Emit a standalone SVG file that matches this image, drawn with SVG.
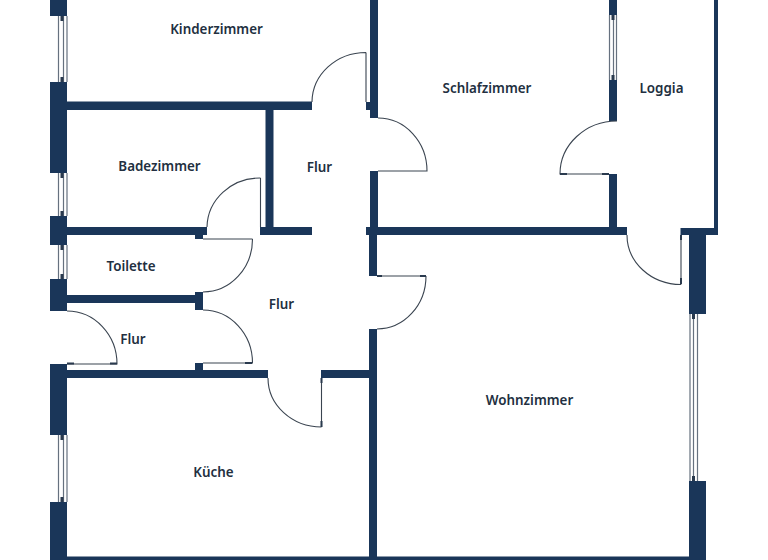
<svg xmlns="http://www.w3.org/2000/svg" width="768" height="560" viewBox="0 0 768 560">
<style>
.w{fill:#1a3659}
.d{fill:none;stroke:#3a4450;stroke-width:1.1}
.g{fill:none;stroke:#66717f;stroke-width:1.2}
.s{fill:#2a3a4e}
text{font-family:"Noto Sans","Open Sans",sans-serif;font-size:13.4px;font-weight:600;fill:#222f40;text-anchor:middle}
</style>
<rect width="768" height="560" fill="#fff"/>
<g id="walls">
<rect class="w" x="50" y="0" width="17" height="16"/>
<rect class="w" x="50" y="82" width="17" height="91"/>
<rect class="w" x="50" y="216" width="17" height="29"/>
<rect class="w" x="50" y="279" width="17" height="32"/>
<rect class="w" x="50" y="364" width="17" height="71"/>
<rect class="w" x="50" y="502" width="17" height="58"/>
<rect class="w" x="66" y="101.500" width="246" height="8.500"/>
<rect class="w" x="265.500" y="110" width="8" height="118"/>
<rect class="w" x="66" y="227" width="141" height="8"/>
<rect class="w" x="195" y="234" width="8" height="5"/>
<rect class="w" x="260" y="227" width="52" height="8"/>
<rect class="w" x="66" y="295" width="130" height="8"/>
<rect class="w" x="195" y="292" width="8" height="18"/>
<rect class="w" x="66" y="370" width="202" height="8"/>
<rect class="w" x="195" y="363" width="8" height="8"/>
<rect class="w" x="321" y="370" width="49" height="8"/>
<rect class="w" x="366" y="102" width="5" height="8"/>
<rect class="w" x="370" y="0" width="8" height="118"/>
<rect class="w" x="370" y="171" width="8" height="57"/>
<rect class="w" x="366" y="227" width="261" height="8"/>
<rect class="w" x="369" y="235" width="8" height="41"/>
<rect class="w" x="369" y="329" width="8" height="231"/>
<rect class="w" x="609" y="0" width="8" height="15"/>
<rect class="w" x="609" y="80" width="8" height="41"/>
<rect class="w" x="609" y="174" width="8" height="54"/>
<rect class="w" x="714" y="0" width="4" height="230"/>
<rect class="w" x="680.500" y="228" width="37.500" height="7"/>
<rect class="w" x="689" y="235" width="17" height="79"/>
<rect class="w" x="689" y="481" width="17" height="79"/>
<rect class="w" x="66" y="556.500" width="304" height="3.500"/>
<rect class="w" x="377" y="556.500" width="312" height="3.500"/>
</g>
<g id="windows">
<path class="g" d="M58.500 16V82M63.500 16V82M67 16V82"/>
<path class="g" d="M58.500 173V216M63.500 173V216M67 173V216"/>
<path class="g" d="M58.500 245V279M63.500 245V279M67 245V279"/>
<path class="g" d="M58.500 435V502M63.500 435V502M67 435V502"/>
<path class="g" d="M609.500 15V80M613.500 15V80M616.500 15V80"/>
<path class="g" d="M690 314V481M693.500 314V481M697.500 314V481"/>
<rect class="s" x="60.500" y="16" width="3" height="5"/>
<rect class="s" x="60.500" y="77" width="3" height="5"/>
<rect class="s" x="60.500" y="173" width="3" height="5"/>
<rect class="s" x="60.500" y="211" width="3" height="5"/>
<rect class="s" x="60.500" y="245" width="3" height="5"/>
<rect class="s" x="60.500" y="274" width="3" height="5"/>
<rect class="s" x="60.500" y="435" width="3" height="5"/>
<rect class="s" x="60.500" y="497" width="3" height="5"/>
<rect class="s" x="611.500" y="15" width="3" height="5"/>
<rect class="s" x="611.500" y="75" width="3" height="5"/>
<rect class="s" x="692" y="314" width="3" height="5"/>
<rect class="s" x="692" y="476" width="3" height="5"/>
</g>
<g id="doors">
<path class="d" d="M260.500 178V227M260.500 178A53 50 0 0 0 207 227"/>
<path class="d" d="M203 239H252.500M252.500 239A49.500 53 0 0 1 203 292"/>
<path class="d" d="M203 310A49.500 53 0 0 1 252.500 363H203"/>
<path class="d" d="M67 311A50 53 0 0 1 117 364H67"/>
<path class="d" d="M366 52.500V102M366 52.500A54 50 0 0 0 312 102"/>
<path class="d" d="M378 118A49 53 0 0 1 427 171H378"/>
<path class="d" d="M377 276H426M426 276A49 53 0 0 1 377 329"/>
<path class="d" d="M321.500 378V427M321.500 427A53.500 49 0 0 1 268 378"/>
<path class="d" d="M617 121A57 53 0 0 0 560 174H609"/>
<path class="d" d="M681 235V284.500M681 284.500A54 49.500 0 0 1 627 235"/>
<rect class="s" x="67" y="362.500" width="7" height="2"/>
<rect class="s" x="110" y="362.500" width="7" height="2"/>
<rect class="s" x="245" y="362" width="7" height="2"/>
<rect class="s" x="560" y="173" width="7" height="2"/>
<rect class="s" x="602" y="173" width="7" height="2"/>
<rect class="s" x="377" y="275" width="5" height="2"/>
<rect class="s" x="420" y="275" width="6" height="2"/>
<rect class="s" x="320.500" y="378" width="2" height="5"/>
<rect class="s" x="320.500" y="421" width="2" height="6"/>
<rect class="s" x="680" y="235" width="2" height="5"/>
<rect class="s" x="680" y="278" width="2" height="6"/>
</g>
<g id="labels">
<text x="216.500" y="34">Kinderzimmer</text>
<text x="487" y="93">Schlafzimmer</text>
<text x="661.500" y="93">Loggia</text>
<text x="159.500" y="171">Badezimmer</text>
<text x="319.500" y="172">Flur</text>
<text x="131" y="271">Toilette</text>
<text x="281.500" y="309">Flur</text>
<text x="133" y="344">Flur</text>
<text x="529.500" y="405">Wohnzimmer</text>
<text x="213.500" y="477">Küche</text>
</g>
</svg>
